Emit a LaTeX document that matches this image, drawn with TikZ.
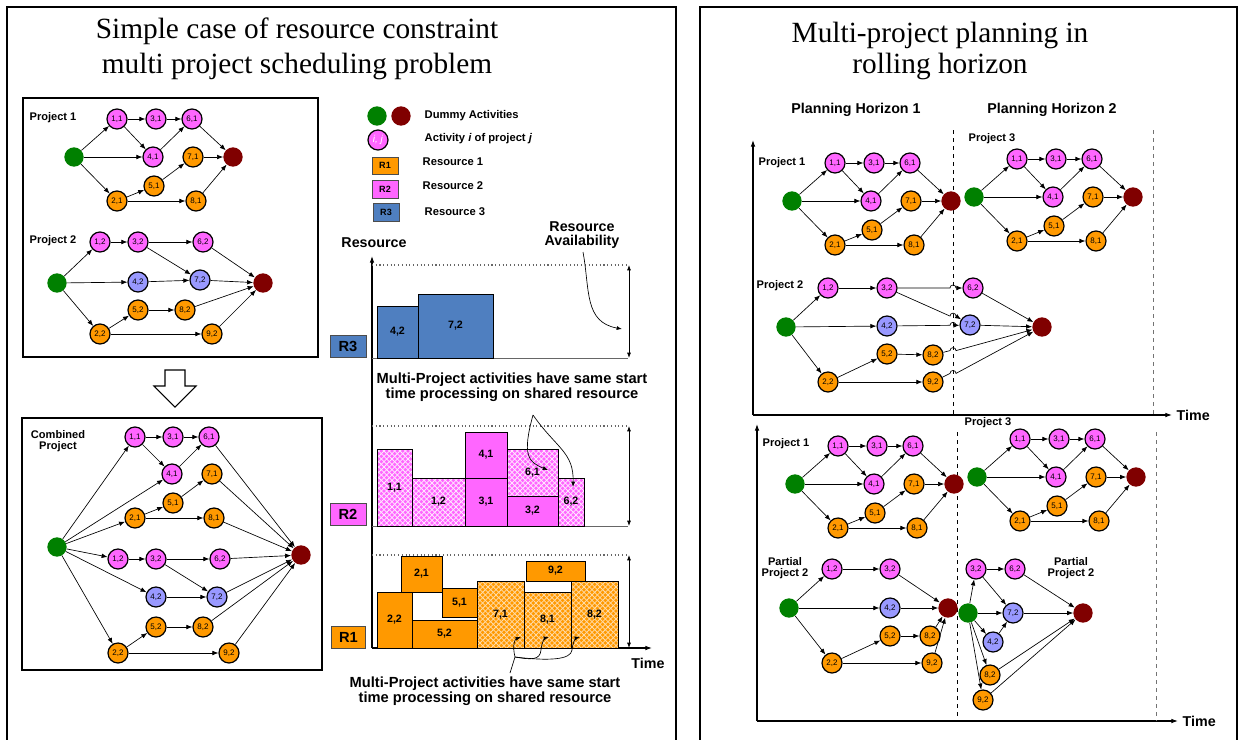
\documentclass[tikz,border=0pt]{standalone}
\usepackage{fontspec}
\setmainfont{Liberation Serif}
\setsansfont{Liberation Sans}
\usetikzlibrary{arrows.meta,patterns}
\definecolor{pinkc}{HTML}{FF66FF}
\definecolor{orangec}{HTML}{FF9900}
\definecolor{lbluec}{HTML}{9999FF}
\definecolor{barblue}{HTML}{4F7FC0}
\definecolor{dgreen}{HTML}{008000}
\definecolor{dred}{HTML}{800000}
\newcommand\myfz[1]{\fontsize{#1}{#1}\selectfont}
\pgfdeclarepatternformonly{diamgrid}{\pgfpoint{-1pt}{-1pt}}{\pgfpoint{5pt}{5pt}}{\pgfpoint{4pt}{4pt}}{%
  \pgfsetlinewidth{0.55pt}%
  \pgfpathmoveto{\pgfpoint{0pt}{0pt}}\pgfpathlineto{\pgfpoint{4pt}{4pt}}%
  \pgfpathmoveto{\pgfpoint{0pt}{4pt}}\pgfpathlineto{\pgfpoint{4pt}{0pt}}%
  \pgfusepath{stroke}}
\tikzset{
  act/.style={circle, draw=black, line width=0.9pt, minimum size=15pt, inner sep=0pt, font=\sffamily\myfz{6}},
  pk/.style={act, fill=pinkc},
  og/.style={act, fill=orangec},
  lb/.style={act, fill=lbluec},
  sn/.style={circle, fill=dgreen, minimum size=14.5pt, inner sep=0pt},
  fn/.style={circle, fill=dred, minimum size=14.5pt, inner sep=0pt},
  arr/.style={-{Latex[length=4.5pt,width=3.5pt]}, line width=0.5pt},
  ttl/.style={font=\rmfamily\myfz{22}},
  plab/.style={font=\sffamily\bfseries\myfz{8.3}, align=center},
  lgtext/.style={font=\sffamily\bfseries\myfz{8.4}, anchor=west},
  bigl/.style={font=\sffamily\bfseries\myfz{11}, align=center},
  axl/.style={font=\sffamily\bfseries\myfz{10.7}},
  barl/.style={font=\sffamily\bfseries\myfz{8}},
  sbar/.style={draw=black, line width=0.5pt},
  hpk/.style={preaction={fill=pinkc}, pattern=diamgrid, pattern color=white!85!pinkc, draw=black, line width=0.5pt},
  hog/.style={preaction={fill=orangec}, pattern=diamgrid, pattern color=white!65!orangec, draw=black, line width=0.5pt},
  rbox/.style={draw=black!70, line width=0.6pt, font=\sffamily\bfseries\myfz{11}},
  lgbox/.style={draw=black!70, line width=0.6pt, font=\sffamily\bfseries\myfz{6.8}},
  dbl/.style={{Latex[length=4pt,width=3pt]}-{Latex[length=4pt,width=3pt]}, line width=0.6pt},
  avail/.style={dotted, line width=0.8pt, black!60},
  axis/.style={-{Latex[length=5pt,width=3.5pt]}, line width=0.8pt},
  thin/.style={-{Latex[length=4pt,width=3pt]}, line width=0.5pt},
}
\newcommand\projA[3]{%
\begin{scope}[shift={(#2,#3)}]
\node[sn] (#1s) at (0,0) {};
\node[pk] (#1a) at (43,-38) {1,1};
\node[pk] (#1c) at (82,-38) {3,1};
\node[pk] (#1f) at (118,-38) {6,1};
\node[pk] (#1d) at (79,0) {4,1};
\node[og] (#1g) at (119,0) {7,1};
\node[fn] (#1t) at (159,0) {};
\node[og] (#1e) at (80,29) {5,1};
\node[og] (#1b) at (43,44) {2,1};
\node[og] (#1h) at (122,44) {8,1};
\end{scope}
\draw[arr] (#1s) -- (#1a);
\draw[arr] (#1s) -- (#1d);
\draw[arr] (#1s) -- (#1b);
\draw[arr] (#1a) -- (#1c);
\draw[arr] (#1a) -- (#1d);
\draw[arr] (#1c) -- (#1f);
\draw[arr] (#1d) -- (#1f);
\draw[arr] (#1f) -- (#1t);
\draw[arr] (#1g) -- (#1t);
\draw[arr] (#1b) -- (#1e);
\draw[arr] (#1b) -- (#1h);
\draw[arr] (#1e) -- (#1g);
\draw[arr] (#1h) -- (#1t);
}
\begin{document}
\begin{tikzpicture}[x=0.75pt,y=-0.75pt]
\useasboundingbox (0,0) rectangle (1241,739);
\clip (0,0) rectangle (1241,739);
% frames
\draw[line width=1.5pt] (7,7) rectangle (676,760);
\draw[line width=1.5pt] (700,7) rectangle (1237,760);
% titles
\node[ttl] (t1) at (297,31) {Simple case of resource constraint};
\node[ttl] (t2) at (297,66) {multi project scheduling problem};
\node[ttl] (t3) at (940,35) {Multi-project planning in};
\node[ttl] (t4) at (940,66) {rolling horizon};

% ===== left top box
\draw[line width=0.8pt] (23,98) rectangle (318,357);
\node[plab] (lp1) at (53,118) {Project 1};
\projA{L}{74}{157}
\node[plab] (lp2) at (53,241) {Project 2};
\node[sn] (Ms) at (57,283) {};
\node[pk] (M12) at (100,242) {1,2};
\node[pk] (M32) at (138,242) {3,2};
\node[pk] (M62) at (203,242) {6,2};
\node[lb] (M42) at (138,282) {4,2};
\node[lb] (M72) at (200,280) {7,2};
\node[fn] (Mt) at (263,283) {};
\node[og] (M52) at (138,310) {5,2};
\node[og] (M82) at (185,310) {8,2};
\node[og] (M22) at (100,334) {2,2};
\node[og] (M92) at (212,334) {9,2};
\foreach \a/\b in {Ms/M12,Ms/M42,Ms/M22,M12/M32,M32/M62,M32/M72,M42/M72,M62/Mt,M72/Mt,M22/M52,M22/M92,M52/M82,M82/Mt,M92/Mt}
  \draw[arr] (\a) -- (\b);

% hollow arrow
\draw[line width=0.8pt, fill=white] (165,370) -- (185,370) -- (185,386) -- (196,386) -- (175,407) -- (154,386) -- (165,386) -- cycle;

% ===== combined box
\draw[line width=0.8pt] (22,418) rectangle (322,670);
\node[plab] (cp) at (58,441) {Combined\\Project};
\node[sn] (Cs) at (57,547) {};
\node[fn] (Ct) at (301,555) {};
\node[pk] (C11) at (135,437) {1,1};
\node[pk] (C31) at (173,437) {3,1};
\node[pk] (C61) at (209,437) {6,1};
\node[pk] (C41) at (172,474) {4,1};
\node[og] (C71) at (212,474) {7,1};
\node[og] (C51) at (173,503) {5,1};
\node[og] (C21) at (135,518) {2,1};
\node[og] (C81) at (214,518) {8,1};
\node[pk] (C12) at (118,559) {1,2};
\node[pk] (C32) at (156,559) {3,2};
\node[pk] (C62) at (220,559) {6,2};
\node[lb] (C42) at (156,597) {4,2};
\node[lb] (C72) at (217,597) {7,2};
\node[og] (C52) at (156,627) {5,2};
\node[og] (C82) at (203,627) {8,2};
\node[og] (C22) at (118,653) {2,2};
\node[og] (C92) at (229,653) {9,2};
\foreach \a/\b in {Cs/C11,Cs/C41,Cs/C21,Cs/C12,Cs/C42,Cs/C22,C11/C31,C11/C41,C31/C61,C41/C61,C21/C51,C21/C81,C51/C71,C12/C32,C32/C62,C32/C72,C42/C72,C22/C52,C22/C92,C52/C82,C61/Ct,C71/Ct,C81/Ct,C62/Ct,C72/Ct,C82/Ct,C92/Ct}
  \draw[arr] (\a) -- (\b);

% ===== legend
\node[sn] (lgs) at (377,116) {};
\node[fn] (lgt) at (401,116) {};
\node[lgtext] (lgt1) at (420,116) {Dummy Activities};
\node[pk, font=\sffamily\myfz{7.5}] (lgij) at (378,140) {\textcolor{white}{\textit{i, j}}};
\node[lgtext] (lgt2) at (420,139) {Activity \textit{i} of project \textit{j}};
\node[lgbox, fill=orangec, minimum width=19.5pt, minimum height=12.75pt] (lgr1) at (385,165.5) {R1};
\node[lgtext] (lgt3) at (418,162) {Resource 1};
\node[lgbox, fill=pinkc, minimum width=19.5pt, minimum height=13.5pt] (lgr2) at (385,189) {R2};
\node[lgtext] (lgt4) at (418,186) {Resource 2};
\node[lgbox, fill=barblue, minimum width=19.5pt, minimum height=13.5pt] (lgr3) at (386,212) {R3};
\node[lgtext] (lgt5) at (420,212) {Resource 3};

% ===== chart
\node[axl] (res) at (374,243) {Resource};
\node[bigl, font=\sffamily\bfseries\myfz{10.7}] (ravl) at (582,235) {Resource\\Availability};
\coordinate (yb) at (372,648);
\coordinate (yt) at (372,256);
\coordinate (xe) at (652,648);
\draw[axis] (yb) -- (yt);
\draw[axis] (yb) -- (xe);
\node[axl] (time1) at (648,663) {Time};
\draw[avail] (372,265) -- (628,265);
\draw[avail] (372,426) -- (628,426);
\draw[avail] (372,555) -- (628,555);
\draw[black!60, line width=0.6pt] (372,358) -- (628,358);
\draw[black!60, line width=0.6pt] (372,526) -- (628,526);
\draw[dbl] (629,265) -- (629,358);
\draw[dbl] (629,426) -- (629,526);
\draw[dbl] (629,555) -- (629,648);
\draw[thin] (583,252) .. controls (590,290) and (584,322) .. (622,329);
% R labels
\node[rbox, fill=barblue, minimum width=27pt, minimum height=17pt] (cr3) at (348,346.5) {R3};
\node[rbox, fill=pinkc, minimum width=27pt, minimum height=17pt] (cr2) at (348,514.5) {R2};
\node[rbox, fill=orangec, minimum width=26pt, minimum height=16.5pt] (cr1) at (348.5,637) {R1};
% R3 bars
\draw[sbar, fill=barblue] (377,306) rectangle node[barl] {4,2} (418,358);
\draw[sbar, fill=barblue] (418,294) rectangle node[barl] {7,2} (493,358);
% R2 bars
\draw[hpk] (377,449) rectangle node[barl] {1,1} (412,526);
\draw[hpk] (412,478) rectangle node[barl] {1,2} (465,526);
\draw[sbar, fill=pinkc] (465,478) rectangle node[barl] {3,1} (507,526);
\draw[sbar, fill=pinkc] (465,432) rectangle node[barl] {4,1} (507,478);
\draw[hpk] (507,449) rectangle node[barl] {6,1} (558,496);
\draw[sbar, fill=pinkc] (507,496) rectangle node[barl] {3,2} (558,526);
\draw[hpk] (558,478) rectangle node[barl] {6,2} (584,526);
% R1 bars
\draw[sbar, fill=orangec] (377,592) rectangle node[barl] {2,2} (412,648);
\draw[sbar, fill=orangec] (401,556) rectangle node[barl] {2,1} (442,592);
\draw[sbar, fill=orangec] (412,620) rectangle node[barl] {5,2} (477,648);
\draw[sbar, fill=orangec] (442,588) rectangle node[barl] {5,1} (477,617);
\draw[hog] (477,581) rectangle node[barl] {7,1} (524,648);
\draw[hog] (524,592) rectangle node[barl] {8,1} (571,648);
\draw[hog] (571,581) rectangle node[barl] {8,2} (618,648);
\draw[sbar, fill=orangec] (526,561) rectangle node[barl] {9,2} (585,581);
% annotations
\node[bigl] (mp1) at (512,387) {Multi-Project activities have same start\\time processing on shared resource};
\coordinate (a1) at (533,415);
\draw[thin] (a1) .. controls (522,455) and (528,462) .. (548,470);
\draw[thin] (a1) .. controls (556,448) and (574,452) .. (573,487);
\node[bigl] (mp2) at (485,691) {Multi-Project activities have same start\\time processing on shared resource};
\coordinate (a2) at (510,673);
\coordinate (a2j) at (515,657);
\draw[line width=0.5pt] (a2) -- (a2j);
\draw[thin] (a2j) .. controls (512,645) and (515,639) .. (521,637);
\draw[thin] (a2j) .. controls (532,660) and (540,660) .. (541,650) .. controls (542,641) and (545,638) .. (549,637);
\draw[thin] (a2j) .. controls (548,661) and (571,660) .. (572,650) .. controls (573,641) and (576,638) .. (580,637);

% ===== right panel
\node[axl] (ph1) at (856,110) {Planning Horizon 1};
\node[axl] (ph2) at (1052,110) {Planning Horizon 2};
% top axes
\coordinate (ro1) at (753,415);
\draw[axis] (ro1) -- (753,140);
\draw[axis] (ro1) -- (1172,415);
\node[axl, anchor=west] (time2) at (1172,415) {Time};
\draw[dashed, line width=0.7pt] (953,130) -- (953,415);
\draw[dashed, line width=0.7pt, black!55] (1153,130) -- (1153,415);
\node[plab] (rp1) at (782,163) {Project 1};
\projA{RA}{792}{201}
\node[plab] (rp3) at (992,139) {Project 3};
\projA{RB}{974}{197}
\node[plab] (rp2) at (780,286) {Project 2};
\node[sn] (Ns) at (786,327) {};
\node[pk] (N12) at (828,288) {1,2};
\node[pk] (N32) at (887,288) {3,2};
\node[pk] (N62) at (973,288) {6,2};
\node[lb] (N42) at (887,326) {4,2};
\node[lb] (N72) at (970,325) {7,2};
\node[fn] (Nt) at (1042,327) {};
\node[og] (N52) at (887,354) {5,2};
\node[og] (N82) at (933,355) {8,2};
\node[og] (N22) at (828,382) {2,2};
\node[og] (N92) at (933,382) {9,2};
\foreach \a/\b in {Ns/N12,Ns/N42,Ns/N22,N12/N32,N62/Nt,N72/Nt,N22/N52,N22/N92,N52/N82}
  \draw[arr] (\a) -- (\b);
\draw[arr] (N32) -- (950,288) arc[start angle=180, end angle=360, radius=3] -- (N62);
\draw[arr] (N32) -- (950,316.1) arc[start angle=180, end angle=360, radius=3] -- (N72);
\draw[arr] (N42) -- (950,325.3) arc[start angle=180, end angle=360, radius=3] -- (N72);
\draw[arr] (N82) -- (950,350.6) arc[start angle=180, end angle=360, radius=3] -- (Nt);
\draw[arr] (N92) -- (950,373.4) arc[start angle=180, end angle=360, radius=3] -- (Nt);

% bottom axes
\coordinate (ro2) at (757,721);
\draw[axis] (ro2) -- (757,424);
\draw[axis] (ro2) -- (1178,721);
\node[axl, anchor=west] (time3) at (1178,721) {Time};
\draw[dashed, line width=0.7pt] (957,432) -- (957,721);
\draw[dashed, line width=0.7pt, black!55] (1156,432) -- (1156,721);
\node[plab] (rp1b) at (786,444) {Project 1};
\projA{RC}{795}{484}
\node[plab] (rp3b) at (988,423) {Project 3};
\projA{RD}{977}{477}
% partial project 2 (left)
\node[plab] (pp1) at (785,568) {Partial\\Project 2};
\node[sn] (Ps) at (789,608) {};
\node[pk] (P12) at (832,569) {1,2};
\node[pk] (P32) at (890,569) {3,2};
\node[lb] (P42) at (890,608) {4,2};
\node[fn] (Pt) at (948,608) {};
\node[og] (P52) at (890,636) {5,2};
\node[og] (P82) at (930,636) {8,2};
\node[og] (P22) at (832,663) {2,2};
\node[og] (P92) at (932,663) {9,2};
\foreach \a/\b in {Ps/P12,Ps/P42,Ps/P22,P12/P32,P32/Pt,P42/Pt,P22/P52,P22/P92,P52/P82,P82/Pt,P92/Pt}
  \draw[arr] (\a) -- (\b);
% partial project 2 (right)
\node[plab] (pp2) at (1071,568) {Partial\\Project 2};
\node[sn] (Qs) at (968,613) {};
\node[pk] (Q32) at (976,569) {3,2};
\node[pk] (Q62) at (1015,569) {6,2};
\node[lb] (Q72) at (1013,613) {7,2};
\node[fn] (Qt) at (1083,613) {};
\node[lb] (Q42) at (993,642) {4,2};
\node[og] (Q82) at (990,675) {8,2};
\node[og] (Q92) at (983,700) {9,2};
\foreach \a/\b in {Qs/Q32,Qs/Q72,Qs/Q42,Qs/Q82,Qs/Q92,Q32/Q62,Q32/Q72,Q42/Q72,Q62/Qt,Q72/Qt,Q82/Qt,Q92/Qt}
  \draw[arr] (\a) -- (\b);
\end{tikzpicture}
\end{document}
